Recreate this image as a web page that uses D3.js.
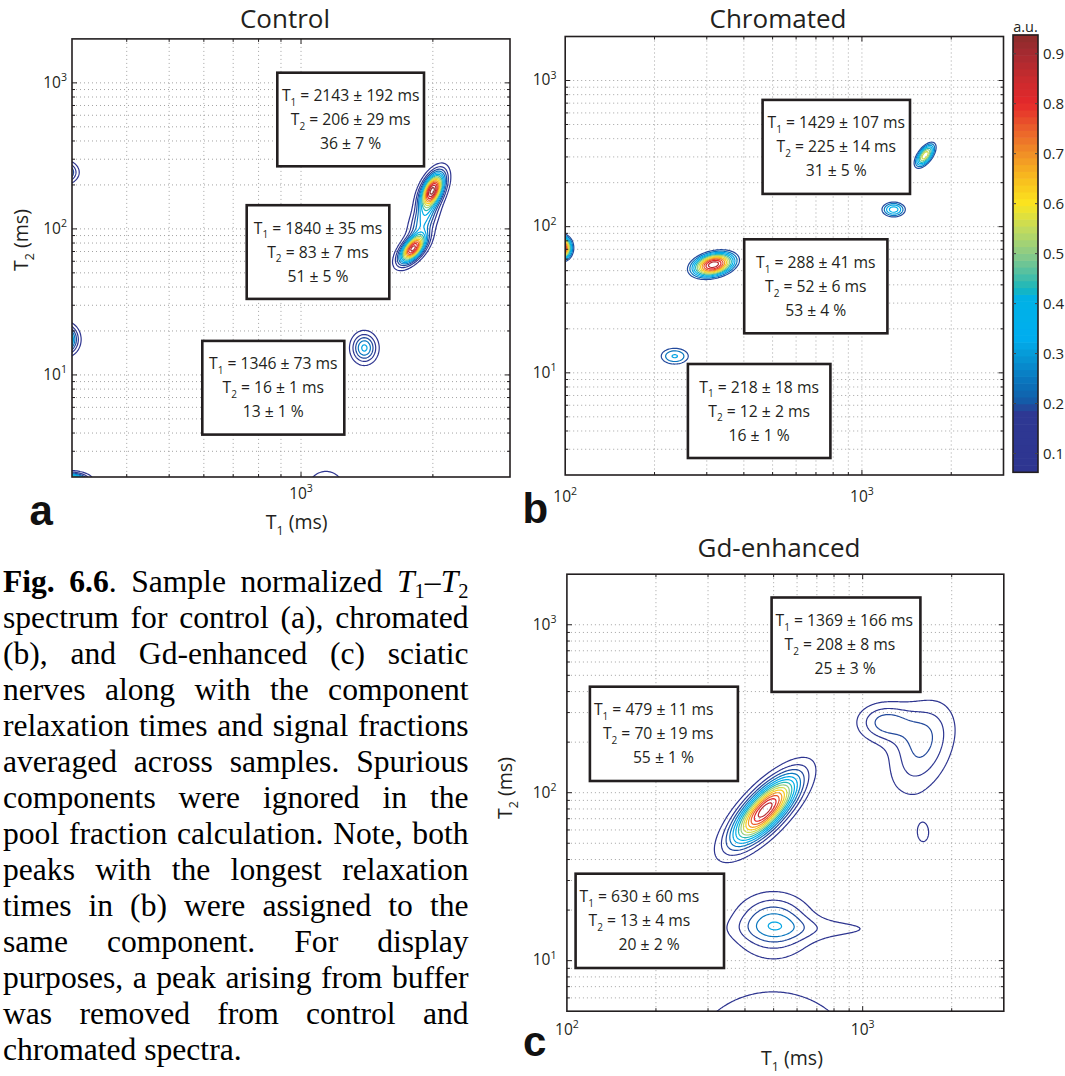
<!DOCTYPE html>
<html>
<head>
<meta charset="utf-8">
<script src="https://cdn.jsdelivr.net/npm/d3@7"></script>
<style>
  html, body { margin: 0; padding: 0; background: #fff; }
  svg { display: block; }
</style>
</head>
<body>
<svg id="fig" width="1065" height="1076"></svg>
<script>
// ---------------------------------------------------------------------------
// Spectrum peaks: [T1 (ms), T2 (ms), amplitude (a.u.), spread in log10 T1,
//                  spread in log10 T2, T1-T2 correlation]
// ---------------------------------------------------------------------------
const controlPeaks = [
  [1995, 184, 0.95, 0.018, 0.080, 0.5],
  [1799, 73, 0.88, 0.020, 0.065, 0.6],
  [1905, 115, 0.30, 0.021, 0.090, 0.5],
  [1395, 15.3, 0.33, 0.0186, 0.066, 0.0],
  [288, 244, 0.38, 0.018, 0.044, 0.0],
  [288, 17.5, 0.62, 0.018, 0.059, 0.0],
  [295, 1.9, 0.75, 0.025, 0.030, 0.0],
  [1140, 1.41, 0.22, 0.031, 0.120, 0.0]
];
const chromatedPeaks = [
  [316, 55, 0.93, 0.049, 0.057, 0.3],
  [1633, 308, 0.62, 0.024, 0.058, 0.6],
  [1279, 131, 0.42, 0.031, 0.040, 0.0],
  [234, 13.0, 0.32, 0.044, 0.052, 0.0],
  [97.7, 71.6, 0.95, 0.0217, 0.054, 0.0]
];
const gdPeaks = [
  [468, 78.9, 0.92, 0.074, 0.135, 0.75],
  [499, 16.7, 0.27, 0.080, 0.110, 0.0],
  [725, 15.5, 0.075, 0.200, 0.050, 0.0],
  [1175, 263, 0.17, 0.058, 0.072, 0.0],
  [1585, 182, 0.185, 0.072, 0.180, 0.35],
  [1380, 251, 0.065, 0.085, 0.100, 0.0],
  [1602, 57.4, 0.07, 0.035, 0.100, 0.0],
  [498, 2.51, 0.1615, 0.199, 0.300, 0.0]
];

// Contour levels (a.u.)
const levelsAll = [0.0625, 0.125, 0.1875, 0.25, 0.3125, 0.375, 0.4375, 0.5,
                   0.5625, 0.625, 0.6875, 0.75, 0.8125, 0.875, 0.9375];
const levelsUpper = [0.1875, 0.25, 0.3125, 0.375, 0.4375, 0.5, 0.5625, 0.625,
                     0.6875, 0.75, 0.8125, 0.875, 0.9375];

// Fitted components: relaxation times (ms) and signal fraction (%)
const controlComponents = [
  { t1: "2143 ± 192", t2: "206 ± 29", frac: "36 ± 7" },
  { t1: "1840 ± 35", t2: "83 ± 7", frac: "51 ± 5" },
  { t1: "1346 ± 73", t2: "16 ± 1", frac: "13 ± 1" }
];
const chromatedComponents = [
  { t1: "1429 ± 107", t2: "225 ± 14", frac: "31 ± 5" },
  { t1: "288 ± 41", t2: "52 ± 6", frac: "53 ± 4" },
  { t1: "218 ± 18", t2: "12 ± 2", frac: "16 ± 1" }
];
const gdComponents = [
  { t1: "1369 ± 166", t2: "208 ± 8", frac: "25 ± 3" },
  { t1: "479 ± 11", t2: "70 ± 19", frac: "55 ± 1" },
  { t1: "630 ± 60", t2: "13 ± 4", frac: "20 ± 2" }
];

// Labelled axis ticks
const xTickLabelsControl = [1000];
const xTickLabelsWide = [100, 1000];
const yTickLabels = [10, 100, 1000];

// Colour bar
const cbarRange = [0.0625, 0.9375];
const cbarTicks = [0.1, 0.2, 0.3, 0.4, 0.5, 0.6, 0.7, 0.8, 0.9];
const cmapStops = [0.0625, 0.18, 0.195, 0.21, 0.25, 0.30, 0.33, 0.41, 0.43, 0.46,
                   0.50, 0.55, 0.60, 0.65, 0.70, 0.75, 0.80, 0.85, 0.90, 0.9375];
const cmapColors = ['#2e3590', '#2e3893', '#1f4c9e', '#1060ab', '#0a78c0', '#069bd8',
                    '#00aeef', '#00b1e6', '#18b7bc', '#4fbfa3', '#8ccb86', '#c2db5c',
                    '#fbe51f', '#f8bd1e', '#f18f26', '#ea5f2b', '#e5282b', '#c82b2e',
                    '#a52a30', '#8b2c2b'];

// Caption (**bold**, _italic_, ~subscript~)
const captionLines = [
  "**Fig.** **6.6**. Sample normalized _T_~1~–_T_~2~",
  "spectrum for control (a), chromated",
  "(b), and Gd-enhanced (c) sciatic",
  "nerves along with the component",
  "relaxation times and signal fractions",
  "averaged across samples. Spurious",
  "components were ignored in the",
  "pool fraction calculation. Note, both",
  "peaks with the longest relaxation",
  "times in (b) were assigned to the",
  "same component. For display",
  "purposes, a peak arising from buffer",
  "was removed from control and",
  "chromated spectra."
];

// ---------------------------------------------------------------------------
const FONT = "'Open Sans', 'Noto Sans', 'DejaVu Sans', sans-serif";
const SERIF = "'Liberation Serif', 'DejaVu Serif', serif";
const INK = '#231f20';

const svg = d3.select('#fig');
const defs = svg.append('defs');

const cmap = d3.scaleLinear().domain(cmapStops).range(cmapColors)
  .interpolate(d3.interpolateRgb).clamp(true);
const NBANDS = 64;
function bandColor(v) {
  const t = (v - cbarRange[0]) / (cbarRange[1] - cbarRange[0]);
  const i = Math.max(0, Math.min(NBANDS - 1, Math.floor(t * NBANDS)));
  return cmap(cbarRange[0] + (i + 0.5) * (cbarRange[1] - cbarRange[0]) / NBANDS);
}

function spectrum(peaks, lx, ly) {
  let s = 0;
  for (const [t1, t2, a, sx, sy, r] of peaks) {
    const u = (lx - Math.log10(t1)) / sx;
    const v = (ly - Math.log10(t2)) / sy;
    const q = (u * u - 2 * r * u * v + v * v) / (1 - r * r);
    s += a * Math.exp(-0.5 * q);
  }
  return s;
}

function tenPower(sel, x, y, value, size, anchor) {
  const t = sel.append('text').attr('x', x).attr('y', y).attr('text-anchor', anchor)
    .attr('font-family', FONT).attr('font-size', size).attr('fill', INK);
  t.append('tspan').text('10');
  t.append('tspan').attr('dy', -size * 0.42).attr('font-size', size * 0.68)
    .text(Math.round(Math.log10(value)));
  return t;
}

function subLabel(sel, x, y, main, sub, rest, size, anchor) {
  const t = sel.append('text').attr('x', x).attr('y', y).attr('text-anchor', anchor)
    .attr('font-family', FONT).attr('font-size', size).attr('fill', INK);
  t.append('tspan').text(main);
  t.append('tspan').attr('font-size', size * 0.64).attr('dy', size * 0.3).text(sub);
  t.append('tspan').attr('dy', -size * 0.3).text(rest);
  return t;
}

const panels = [
  {
    id: 'a', title: 'Control', peaks: controlPeaks, levels: levelsAll,
    components: controlComponents,
    xDomain: [300, 3000], yDomain: [2, 2000],
    xRange: [72, 510], yRange: [477, 38.9],
    xLabels: xTickLabelsControl, xLabelBaseline: 499, yLabelRight: 67,
    titlePos: [285, 27.5], letterPos: [29.5, 525],
    xTitlePos: [296.7, 529], yTitlePos: [28, 240],
    boxes: [[277.3, 72.7, 146.7, 93.6], [246.7, 205.2, 142.6, 93.7], [202.3, 340.9, 142, 93.7]],
    align: 'middle', inset: 0, indent: [0, 0, 0]
  },
  {
    id: 'b', title: 'Chromated', peaks: chromatedPeaks, levels: levelsUpper,
    components: chromatedComponents,
    xDomain: [100, 3000], yDomain: [2, 2000],
    xRange: [565.2, 1003.5], yRange: [475, 36.5],
    xLabels: xTickLabelsWide, xLabelBaseline: 502, yLabelRight: 556.5,
    titlePos: [778, 27.5], letterPos: [522.6, 523],
    xTitlePos: null, yTitlePos: null,
    boxes: [[762.6, 99.9, 147.4, 94], [744.2, 239.3, 143.2, 94], [687.9, 364, 142.5, 94]],
    align: 'middle', inset: 0, indent: [0, 0, 0]
  },
  {
    id: 'c', title: 'Gd-enhanced', peaks: gdPeaks, levels: levelsAll,
    components: gdComponents,
    xDomain: [100, 3000], yDomain: [5, 2000],
    xRange: [566.9, 1003.8], yRange: [1011.2, 574.2],
    xLabels: xTickLabelsWide, xLabelBaseline: 1034.5, yLabelRight: 556.5,
    titlePos: [779, 557], letterPos: [523, 1056],
    xTitlePos: [792, 1065], yTitlePos: [512, 788],
    boxes: [[771.6, 597.5, 148.8, 94.4], [589.9, 686.7, 148, 94.3], [575.6, 873.7, 148.4, 94.3]],
    align: 'start', inset: 4, indent: [0, 9, 39]
  }
];
const lineOffsets = [28.5, 52.5, 76.5];

function drawPanel(p) {
  const xs = d3.scaleLog().domain(p.xDomain).range(p.xRange);
  const ys = d3.scaleLog().domain(p.yDomain).range(p.yRange);
  const [left, right] = p.xRange;
  const [bottom, top] = p.yRange;
  const g = svg.append('g').attr('class', 'panel-' + p.id);

  const clipId = 'clip-' + p.id;
  defs.append('clipPath').attr('id', clipId).append('rect')
    .attr('x', left).attr('y', top).attr('width', right - left).attr('height', bottom - top);

  const inside = (v, d) => v > d[0] * 1.0001 && v < d[1] * 0.9999;
  const xt = xs.ticks().filter(v => inside(v, p.xDomain));
  const yt = ys.ticks().filter(v => inside(v, p.yDomain));
  const isMajor = v => Math.abs(Math.log10(v) - Math.round(Math.log10(v))) < 1e-6;

  // dotted grid at every decade subdivision
  const grid = g.append('g').attr('stroke', '#a3a3a3').attr('stroke-width', 1)
    .attr('stroke-dasharray', '1,3');
  grid.selectAll('line.gx').data(xt).join('line').attr('class', 'gx')
    .attr('x1', d => xs(d)).attr('x2', d => xs(d)).attr('y1', top).attr('y2', bottom);
  grid.selectAll('line.gy').data(yt).join('line').attr('class', 'gy')
    .attr('y1', d => ys(d)).attr('y2', d => ys(d)).attr('x1', left).attr('x2', right);

  // sampled spectrum on a log-log grid, then iso-lines
  const pad = 0.04, nx = 360, ny = 360;
  const lx0 = Math.log10(p.xDomain[0]) - pad, lx1 = Math.log10(p.xDomain[1]) + pad;
  const ly0 = Math.log10(p.yDomain[0]) - pad, ly1 = Math.log10(p.yDomain[1]) + pad;
  const dx = (lx1 - lx0) / (nx - 1), dy = (ly1 - ly0) / (ny - 1);
  const values = new Float64Array(nx * ny);
  for (let j = 0; j < ny; j++) {
    for (let i = 0; i < nx; i++) {
      values[i + j * nx] = spectrum(p.peaks, lx0 + i * dx, ly0 + j * dy);
    }
  }
  const rings = d3.contours().size([nx, ny]).thresholds(p.levels)(values);
  const proj = d3.geoTransform({
    point(gx, gy) {
      this.stream.point(xs(Math.pow(10, lx0 + (gx - 0.5) * dx)),
                        ys(Math.pow(10, ly0 + (gy - 0.5) * dy)));
    }
  });
  const path = d3.geoPath(proj);
  g.append('g').attr('clip-path', `url(#${clipId})`)
    .selectAll('path').data(rings).join('path')
    .attr('d', path).attr('fill', 'none')
    .attr('stroke', d => bandColor(d.value)).attr('stroke-width', 1.2)
    .attr('stroke-linejoin', 'round');

  // frame and inward ticks on all four sides
  const ax = g.append('g').attr('stroke', INK);
  ax.append('rect').attr('x', left).attr('y', top).attr('width', right - left)
    .attr('height', bottom - top).attr('fill', 'none').attr('stroke-width', 1.6);
  const tl = v => isMajor(v) ? 5 : 3;
  ax.selectAll('line.tb').data(xt).join('line').attr('class', 'tb')
    .attr('x1', d => xs(d)).attr('x2', d => xs(d)).attr('y1', bottom).attr('y2', d => bottom - tl(d));
  ax.selectAll('line.tt').data(xt).join('line').attr('class', 'tt')
    .attr('x1', d => xs(d)).attr('x2', d => xs(d)).attr('y1', top).attr('y2', d => top + tl(d));
  ax.selectAll('line.tl').data(yt).join('line').attr('class', 'tl')
    .attr('y1', d => ys(d)).attr('y2', d => ys(d)).attr('x1', left).attr('x2', d => left + tl(d));
  ax.selectAll('line.tr').data(yt).join('line').attr('class', 'tr')
    .attr('y1', d => ys(d)).attr('y2', d => ys(d)).attr('x1', right).attr('x2', d => right - tl(d));

  // tick labels
  p.xLabels.forEach(v => tenPower(g, xs(v), p.xLabelBaseline, v, 15.5, 'middle'));
  yTickLabels.filter(v => inside(v, p.yDomain) || v === p.yDomain[0])
    .forEach(v => tenPower(g, p.yLabelRight, ys(v) + 4.8, v, 15.5, 'end'));

  // component annotation boxes
  p.components.forEach((c, k) => {
    const [bx, by, bw, bh] = p.boxes[k];
    const bg = g.append('g');
    bg.append('rect').attr('x', bx).attr('y', by).attr('width', bw).attr('height', bh)
      .attr('fill', '#fff').attr('stroke', INK).attr('stroke-width', 2.6);
    const lines = [['T', '1', ` = ${c.t1} ms`], ['T', '2', ` = ${c.t2} ms`], [`${c.frac} %`]];
    lines.forEach((ln, li) => {
      const x = p.align === 'middle' ? bx + bw / 2 : bx + p.inset + p.indent[li];
      const y = by + lineOffsets[li];
      if (ln.length === 3) {
        subLabel(bg, x, y, ln[0], ln[1], ln[2], 15.7, p.align);
      } else {
        bg.append('text').attr('x', x).attr('y', y).attr('text-anchor', p.align)
          .attr('font-family', FONT).attr('font-size', 15.7).attr('fill', INK).text(ln[0]);
      }
    });
  });

  // titles and axis names
  g.append('text').attr('x', p.titlePos[0]).attr('y', p.titlePos[1]).attr('text-anchor', 'middle')
    .attr('font-family', FONT).attr('font-size', 26).attr('fill', INK).text(p.title);
  g.append('text').attr('x', p.letterPos[0]).attr('y', p.letterPos[1])
    .attr('font-family', "'Liberation Sans', Arial, sans-serif").attr('font-weight', 'bold')
    .attr('font-size', 42).attr('fill', '#111').text(p.id);
  if (p.xTitlePos) subLabel(g, p.xTitlePos[0], p.xTitlePos[1], 'T', '1', ' (ms)', 19.5, 'middle');
  if (p.yTitlePos) {
    subLabel(g, 0, 0, 'T', '2', ' (ms)', 19.5, 'middle')
      .attr('transform', `translate(${p.yTitlePos[0]},${p.yTitlePos[1]}) rotate(-90)`);
  }
}

panels.forEach(drawPanel);

// ---- colour bar ----
(function drawColorbar() {
  const cx0 = 1013, cx1 = 1038, cy0 = 35, cy1 = 472.3;
  const cs = d3.scaleLinear().domain(cbarRange).range([cy1, cy0]);
  const cb = svg.append('g');
  const step = (cbarRange[1] - cbarRange[0]) / NBANDS;
  const bands = d3.range(NBANDS).map(i => cbarRange[0] + i * step);
  cb.selectAll('rect.band').data(bands).join('rect').attr('class', 'band')
    .attr('x', cx0).attr('width', cx1 - cx0)
    .attr('y', d => cs(d + step) - 0.3).attr('height', d => cs(d) - cs(d + step) + 0.6)
    .attr('fill', d => bandColor(d + step / 2));
  cb.append('rect').attr('x', cx0).attr('y', cy0).attr('width', cx1 - cx0).attr('height', cy1 - cy0)
    .attr('fill', 'none').attr('stroke', INK).attr('stroke-width', 1.6);
  cb.selectAll('line.l').data(cbarTicks).join('line').attr('class', 'l')
    .attr('x1', cx0).attr('x2', cx0 + 3).attr('y1', d => cs(d)).attr('y2', d => cs(d))
    .attr('stroke', '#444').attr('stroke-width', 1);
  cb.selectAll('line.r').data(cbarTicks).join('line').attr('class', 'r')
    .attr('x1', cx1).attr('x2', cx1 - 3).attr('y1', d => cs(d)).attr('y2', d => cs(d))
    .attr('stroke', '#444').attr('stroke-width', 1);
  cb.selectAll('text.t').data(cbarTicks).join('text').attr('class', 't')
    .attr('x', 1043).attr('y', d => cs(d) + 5.3)
    .attr('font-family', FONT).attr('font-size', 15).attr('fill', INK)
    .text(d => d.toFixed(1));
  cb.append('text').attr('x', (cx0 + cx1) / 2).attr('y', 31.5).attr('text-anchor', 'middle')
    .attr('font-family', FONT).attr('font-size', 14.5).attr('fill', INK).text('a.u.');
})();

// ---- justified caption ----
(function drawCaption() {
  const size = 31.6, x0 = 3, x1 = 468.5, y0 = 591.7, lead = 36.05;
  const measure = svg.append('text').attr('visibility', 'hidden');
  function style(sel, r) {
    return sel.attr('font-family', SERIF)
      .attr('font-size', r.sub ? size * 0.65 : size)
      .attr('font-weight', r.bold ? 'bold' : 'normal')
      .attr('font-style', r.italic ? 'italic' : 'normal');
  }
  function width(r) {
    style(measure, r).text(r.text);
    return measure.node().getComputedTextLength();
  }
  function parseRuns(str) {
    return str.split(/(\*\*[^*]+\*\*|_[^_]+_|~[^~]+~)/).filter(s => s.length).map(s => {
      if (s.startsWith('**')) return { text: s.slice(2, -2), bold: true };
      if (s.startsWith('_')) return { text: s.slice(1, -1), italic: true };
      if (s.startsWith('~')) return { text: s.slice(1, -1), sub: true };
      return { text: s };
    });
  }
  function toWords(runs) {
    const words = [[]];
    runs.forEach(r => {
      r.text.split(' ').forEach((piece, i) => {
        if (i > 0) words.push([]);
        if (piece) words[words.length - 1].push(Object.assign({}, r, { text: piece }));
      });
    });
    return words.filter(w => w.length);
  }
  const spaceW = size * 0.25;
  const cap = svg.append('g').attr('fill', '#000');
  captionLines.forEach((line, li) => {
    const words = toWords(parseRuns(line));
    words.forEach(w => w.forEach(r => { r.w = width(r); }));
    const wordW = words.map(w => d3.sum(w, r => r.w));
    const last = li === captionLines.length - 1;
    const gap = last || words.length < 2 ? spaceW
      : (x1 - x0 - d3.sum(wordW)) / (words.length - 1);
    const y = y0 + li * lead;
    let x = x0;
    words.forEach(w => {
      w.forEach(r => {
        style(cap.append('text'), r).attr('x', x).attr('y', r.sub ? y + 6 : y).text(r.text);
        x += r.w;
      });
      x += gap;
    });
  });
  measure.remove();
})();
</script>
</body>
</html>
